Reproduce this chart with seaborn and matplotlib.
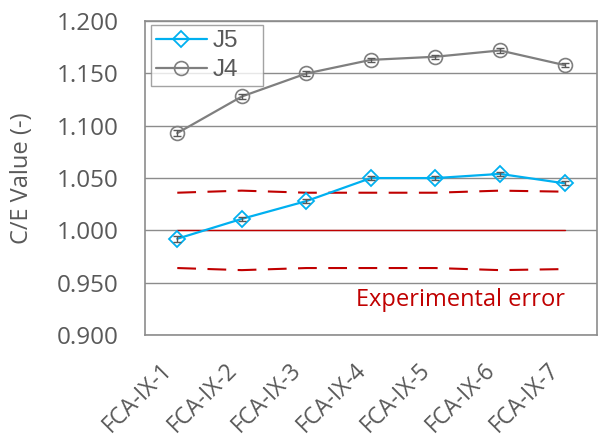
import matplotlib
matplotlib.use('Agg')
import matplotlib.pyplot as plt
import seaborn as sns
import pandas as pd

cases = ['FCA-IX-1', 'FCA-IX-2', 'FCA-IX-3', 'FCA-IX-4', 'FCA-IX-5', 'FCA-IX-6', 'FCA-IX-7']
j5 = [0.992, 1.011, 1.028, 1.050, 1.050, 1.054, 1.045]
j4 = [1.093, 1.128, 1.150, 1.163, 1.166, 1.172, 1.158]
j5_err = [0.003, 0.002, 0.002, 0.002, 0.002, 0.002, 0.002]
j4_err = [0.003, 0.002, 0.002, 0.002, 0.002, 0.002, 0.002]
err_up = [1.036, 1.038, 1.036, 1.036, 1.036, 1.038, 1.037]
err_lo = [0.964, 0.962, 0.964, 0.964, 0.964, 0.962, 0.963]
ref = [1.000] * 7

sns.set_theme(style='white')
plt.rcParams['font.family'] = ['Open Sans', 'DejaVu Sans']
txt = '#595959'
red = '#C00000'
dash = (0, (9, 5.5))

fig, ax = plt.subplots(figsize=(5.98, 4.41), dpi=100)
fig.subplots_adjust(left=0.2425, right=0.998, top=0.952, bottom=0.2404)

df = pd.DataFrame({'case': cases, 'J5': j5, 'J4': j4})

# experimental error band
sns.lineplot(x=cases, y=err_up, ax=ax, color=red, lw=1.5, linestyle=dash, zorder=2)
sns.lineplot(x=cases, y=err_lo, ax=ax, color=red, lw=1.5, linestyle=dash, zorder=2)
sns.lineplot(x=cases, y=ref, ax=ax, color=red, lw=1.0, zorder=2)

sns.lineplot(data=df, x='case', y='J5', ax=ax, color='#00B0F0', lw=1.6,
             marker='D', markersize=8, markerfacecolor='none',
             markeredgecolor='#00B0F0', markeredgewidth=1.3, label='J5', zorder=4)
sns.lineplot(data=df, x='case', y='J4', ax=ax, color='#7F7F7F', lw=1.6,
             marker='o', markersize=10, markerfacecolor='none',
             markeredgecolor='#7F7F7F', markeredgewidth=1.2, label='J4', zorder=4)
ax.errorbar(cases, j5, yerr=j5_err, fmt='none', ecolor='#595959', elinewidth=1,
            capsize=3, zorder=5)
ax.errorbar(cases, j4, yerr=j4_err, fmt='none', ecolor='#595959', elinewidth=1,
            capsize=3, zorder=5)

ax.set_xlim(-0.5, len(cases) - 0.5)
ax.set_ylim(0.9, 1.2)
ax.set_yticks([0.9 + 0.05 * i for i in range(7)])
ax.set_yticklabels([f'{0.9 + 0.05 * i:.3f}' for i in range(7)])
ax.yaxis.grid(True, color='#8C8C8C', lw=1.0)
ax.set_axisbelow(True)
for s in ax.spines.values():
    s.set_color('#8C8C8C')
    s.set_linewidth(1.2)

ax.tick_params(axis='y', colors=txt, labelsize=17.5, length=0, pad=19)
ax.tick_params(axis='x', colors=txt, labelsize=16.5, length=0, pad=17)
plt.setp(ax.get_xticklabels(), rotation=45, ha='right', va='top',
         rotation_mode='default')
ax.set_xlabel('')
ax.set_ylabel('C/E Value (-)', color=txt, fontsize=17)
ax.yaxis.set_label_coords(-0.245, 0.5)

ax.text(6.0, 0.928, 'Experimental error', color=red, fontsize=17,
        ha='right', va='baseline')

leg = ax.legend(loc='upper left', bbox_to_anchor=(0.013, 0.987, 0.248, 0),
                mode='expand', prop={'family': 'Liberation Sans', 'size': 17.5},
                frameon=True, fancybox=False, edgecolor='#8C8C8C',
                handlelength=2.1, handletextpad=0.25, borderpad=0.2,
                labelspacing=0.3, borderaxespad=0.0)
leg.get_frame().set_linewidth(1.0)
for t in leg.get_texts():
    t.set_color(txt)

fig.savefig('out.png', dpi=100)
